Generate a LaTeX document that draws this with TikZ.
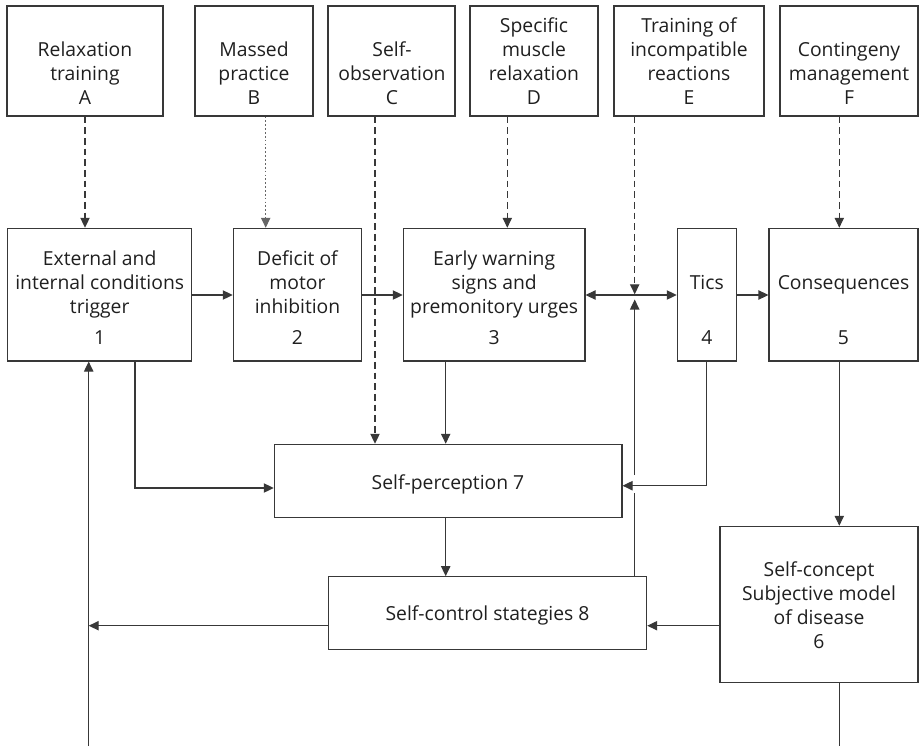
\documentclass[tikz,border=0pt]{standalone}
\usepackage{fontspec}
\setmainfont{Open Sans}
\usetikzlibrary{arrows.meta,fit}
\begin{document}
\begin{tikzpicture}[x=0.75pt,y=-0.75pt,
  ln/.style={line width=0.8pt, draw=black!78},
  box/.style={ln, rectangle, inner sep=0pt},
  lbl/.style={font=\fontsize{14.5}{18}\selectfont, text=black!88, align=center, inner sep=0pt},
  tip/.style={-{Triangle[length=7.5pt,width=7pt]}},
  arr/.style={ln, tip},
  dashline/.style={dash pattern=on 5pt off 3pt},
  dotline/.style={dash pattern=on 1.3pt off 1.6pt, draw=black!60}
]
\useasboundingbox (0,0) rectangle (919,746);

% ---- method boxes (top row)
\node[box, fit={(7,6) (163,116)}] (A) {};
\node[box, fit={(195,6) (313,116)}] (B) {};
\node[box, fit={(328,6) (455,116)}] (C) {};
\node[box, fit={(470,6) (598,116)}] (D) {};
\node[box, fit={(614,6) (764,116)}] (E) {};
\node[box, fit={(780,6) (918,116)}] (F) {};

\node[lbl, anchor=south] (A-t) at (85,111.7) {\strut Relaxation\\\strut training\\\strut A};
\node[lbl, anchor=south] (B-t) at (254,111.7) {\strut Massed\\\strut practice\\\strut B};
\node[lbl, anchor=south] (C-t) at (392,111.7) {\strut Self-\\\strut observation\\\strut C};
\node[lbl, anchor=south] (D-t) at (534,111.7) {\strut Specific\\\strut muscle\\\strut relaxation\\\strut D};
\node[lbl, anchor=south] (E-t) at (689,111.7) {\strut Training of\\\strut incompatible\\\strut reactions\\\strut E};
\node[lbl, anchor=south] (F-t) at (849,111.7) {\strut Contingeny\\\strut management\\\strut F};

% ---- process chain (second row)
\node[box, fit={(7.7,228.3) (191.7,361)}] (n1) {};
\node[box, fit={(233.3,228.3) (361.7,361)}] (n2) {};
\node[box, fit={(403.3,228.3) (585,361)}] (n3) {};
\node[box, fit={(677.3,228.3) (736.3,361)}] (n4) {};
\node[box, fit={(769,228.3) (918,361)}] (n5) {};

\node[lbl, anchor=south] (n1-t) at (99.7,352.2) {\strut External and\\\strut internal conditions\\\strut trigger\\[5.6pt]\strut 1};
\node[lbl, anchor=south] (n2-t) at (297.5,352.2) {\strut Deficit of\\\strut motor\\\strut inhibition\\[5.6pt]\strut 2};
\node[lbl, anchor=south] (n3-t) at (494.2,352.2) {\strut Early warning\\\strut signs and\\\strut premonitory urges\\[5.6pt]\strut 3};
\node[lbl, anchor=south] (n4-t) at (706.8,352.2) {\strut Tics\\\strut\\[5.6pt]\strut 4};
\node[lbl, anchor=south] (n5-t) at (843.5,352.2) {\strut Consequences\\\strut\\[5.6pt]\strut 5};

% ---- lower boxes
\node[box, fit={(274.3,444.3) (622,517.7)}] (n7) {};
\node[box, fit={(328.3,576.7) (646.7,649.3)}] (n8) {};
\node[box, fit={(720,526.3) (918,682.7)}] (n6) {};

\node[lbl, anchor=base] (n7-t) at (448,489) {Self-perception 7};
\node[lbl, anchor=base] (n8-t) at (487.5,620) {Self-control stategies 8};
\node[lbl, anchor=south] (n6-t) at (819,655.5) {\strut Self-concept\\\strut Subjective model\\\strut of disease\\\strut 6};

% ---- guide coordinates for connector columns and rows
\coordinate (cB) at (265.7,0);
\coordinate (cC) at (375,0);
\coordinate (cD) at (507.3,0);
\coordinate (cE) at (634.7,0);
\coordinate (cF) at (839.3,0);
\coordinate (c1) at (135,0);
\coordinate (c3) at (445.7,0);
\coordinate (c4) at (706.7,0);
\coordinate (cL) at (88.7,0);
\coordinate (rowT) at (0,295);
\coordinate (row7) at (0,488);
\coordinate (row7r) at (0,485.7);
\coordinate (row8) at (0,625.7);
\coordinate (bottom) at (0,746);
\coordinate (J) at (634.7,294.3);
\coordinate (Jb) at (634.7,299.5);
\coordinate (gapT) at (634.7,475);
\coordinate (gapB) at (634.7,493);

% ---- interventions acting on the chain
\draw[arr, dashline] (A.south) -- (A.south |- n1.north);
\draw[arr, dotline] (B.south -| cB) -- (n2.north -| cB);
\draw[arr, dashline] (C.south -| cC) -- (n7.north -| cC);
\draw[arr, dashline] (D.south -| cD) -- (n3.north -| cD);
\draw[arr, dashline] (E.south -| cE) -- (J);
\draw[arr, dashline] (F.south -| cF) -- (n5.north -| cF);

% ---- chain arrows
\draw[arr] (n1.east |- rowT) -- (n2.west |- rowT);
\draw[arr] (n2.east |- rowT) -- (n3.west |- rowT);
\draw[ln, {Triangle[length=7.5pt,width=7pt]}-{Triangle[length=7.5pt,width=7pt]}] (n3.east |- rowT) -- (n4.west |- rowT);
\draw[arr] (n4.east |- rowT) -- (n5.west |- rowT);

% ---- feedback from self-control strategies (broken where it crosses)
\draw[ln] (n8.north -| cE) -- (gapB);
\draw[arr] (gapT) -- (Jb);

% ---- self-perception inputs
\draw[arr] (n1.south -| c1) |- (n7.west |- row7);
\draw[arr] (n3.south -| c3) -- (n7.north -| c3);
\draw[arr] (n4.south -| c4) |- (n7.east |- row7r);
\draw[arr] (n7.south -| c3) -- (n8.north -| c3);

% ---- self-control strategies back to triggers
\draw[arr] (n8.west |- row8) -- (cL |- row8);
\draw[arr] (cL |- bottom) -- (n1.south -| cL);

% ---- consequences and self-concept
\draw[arr] (n5.south -| cF) -- (n6.north -| cF);
\draw[arr] (n6.west |- row8) -- (n8.east |- row8);
\draw[ln] (n6.south -| cF) -- (cF |- bottom);
\end{tikzpicture}
\end{document}
